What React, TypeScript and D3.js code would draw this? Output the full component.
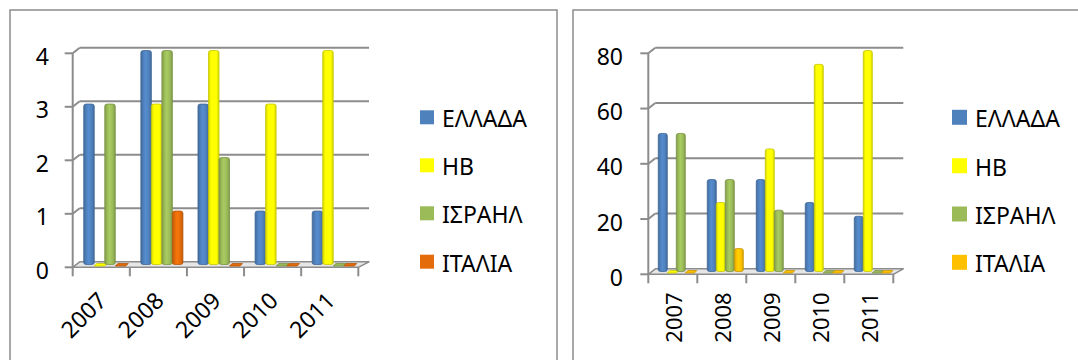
import React from 'react';
import * as d3 from 'd3';

// Yearly counts per country and the same counts as a share (%) of each year's total
const years = ['2007', '2008', '2009', '2010', '2011'];
const seriesNames = ['ΕΛΛΑΔΑ', 'ΗΒ', 'ΙΣΡΑΗΛ', 'ΙΤΑΛΙΑ'];

const greeceCount = [3, 4, 3, 1, 1];
const ukCount = [0, 3, 4, 3, 4];
const israelCount = [3, 4, 2, 0, 0];
const italyCount = [0, 1, 0, 0, 0];

const greeceShare = [50, 33.3, 33.3, 25, 20];
const ukShare = [0, 25, 44.4, 75, 80];
const israelShare = [50, 33.3, 22.2, 0, 0];
const italyShare = [0, 8.3, 0, 0, 0];

const countTicks = [0, 1, 2, 3, 4];
const shareTicks = [0, 20, 40, 60, 80];

const countColors = ['#4f81bd', '#ffff00', '#9bbb59', '#e46c0a'];
const shareColors = ['#4f81bd', '#ffff00', '#9bbb59', '#ffc000'];

const FONT = '"Noto Sans", "DejaVu Sans", sans-serif';
const GRID = '#8c8c8c';
const DX = 7;
const DY = 5.5;

type PanelProps = {
  id: string;
  series: number[][];
  colors: string[];
  ticks: number[];
  frame: { x: number; y: number; w: number; h: number };
  x0: number;
  xEnd: number;
  backEnd: number;
  y0: number;
  yTop: number;
  tickLabelRight: number;
  tickFont: number;
  labelRotate: number;
  labelFont: number;
  legendX: number;
  legendYs: number[];
  legendText: number;
  keySize: number;
};

function Panel(p: PanelProps) {
  const max = p.ticks[p.ticks.length - 1];
  const y = d3.scaleLinear().domain([0, max]).range([p.y0, p.yTop]);
  const x = d3.scaleBand<string>().domain(years).range([p.x0, p.xEnd]).paddingInner(0).paddingOuter(0);
  const cw = x.bandwidth();
  const groupPad = cw * 0.132;
  const inner = d3.scaleBand<string>().domain(seriesNames).range([groupPad, cw - groupPad]).padding(0);
  const bw = inner.bandwidth();
  const sx = DX / 2;
  const sy = DY / 2;
  const boundaries = years.map((yr) => x(yr) as number).concat([p.xEnd]);

  return (
    <g>
      <defs>
        {p.colors.map((c, i) => {
          const dark = d3.color(c)!.darker(0.5).formatHex();
          const light = d3.color(c)!.brighter(0.25).formatHex();
          return (
            <linearGradient key={i} id={`${p.id}-g${i}`} x1="0" x2="1" y1="0" y2="0">
              <stop offset="0%" stopColor={dark} />
              <stop offset="25%" stopColor={c} />
              <stop offset="45%" stopColor={light} />
              <stop offset="75%" stopColor={c} />
              <stop offset="100%" stopColor={dark} />
            </linearGradient>
          );
        })}
      </defs>
      <rect x={p.frame.x} y={p.frame.y} width={p.frame.w} height={p.frame.h} fill="#fff" stroke={GRID} strokeWidth={1.5} />

      {/* back wall gridlines */}
      {p.ticks.filter((t) => t > 0).map((t) => (
        <g key={t}>
          <line x1={p.x0} y1={y(t)} x2={p.x0 + DX} y2={y(t) - DY} stroke={GRID} strokeWidth={2} />
          <line x1={p.x0 + DX} y1={y(t) - DY} x2={p.backEnd} y2={y(t) - DY} stroke={GRID} strokeWidth={2} />
        </g>
      ))}

      {/* floor */}
      <polygon
        points={`${p.x0},${p.y0} ${p.xEnd},${p.y0} ${p.backEnd},${p.y0 - DY} ${p.x0 + DX},${p.y0 - DY}`}
        fill="#e6e6e6"
        stroke={GRID}
        strokeWidth={1.5}
        strokeLinejoin="round"
      />

      {/* value axis */}
      <line x1={p.x0} y1={p.yTop} x2={p.x0} y2={p.y0} stroke={GRID} strokeWidth={2} />
      {p.ticks.map((t) => (
        <g key={t}>
          <line x1={p.x0 - 8} y1={y(t)} x2={p.x0} y2={y(t)} stroke={GRID} strokeWidth={2} />
          <text
            x={p.tickLabelRight}
            y={y(t) + 2.5}
            textAnchor="end"
            dominantBaseline="central"
            fontFamily={FONT}
            fontSize={p.tickFont}
            fill="#000"
          >
            {t}
          </text>
        </g>
      ))}

      {/* category ticks */}
      {boundaries.map((bx, i) => (
        <line key={i} x1={bx} y1={p.y0} x2={bx} y2={p.y0 + 9} stroke={GRID} strokeWidth={2} />
      ))}

      {/* columns */}
      {years.map((yr, ci) => (
        <g key={yr}>
          {seriesNames.map((name, si) => {
            const v = p.series[si][ci];
            const bx = (x(yr) as number) + (inner(name) as number) + sx;
            const base = p.y0 - sy;
            const edge = d3.color(p.colors[si])!.darker(0.7).formatHex();
            if (v === 0) {
              return (
                <polygon
                  key={name}
                  points={`${bx},${base + 1.5} ${bx + bw},${base + 1.5} ${bx + bw + 2.5},${base - 1} ${bx + 2.5},${base - 1}`}
                  fill={p.colors[si]}
                  stroke={edge}
                  strokeWidth={0.8}
                />
              );
            }
            const top = y(v) - sy;
            return (
              <rect
                key={name}
                x={bx}
                y={top}
                width={bw}
                height={base - top}
                rx={2.5}
                ry={2}
                fill={`url(#${p.id}-g${si})`}
                stroke={edge}
                strokeWidth={0.8}
              />
            );
          })}
        </g>
      ))}

      {/* category labels */}
      {years.map((yr) => {
        const cx = (x(yr) as number) + cw / 2;
        if (p.labelRotate === -45) {
          return (
            <text
              key={yr}
              transform={`translate(${cx + 0.5},${p.y0 + 28.5}) rotate(-45)`}
              textAnchor="end"
              dominantBaseline="central"
              fontFamily={FONT}
              fontSize={p.labelFont}
              fill="#000"
            >
              {yr}
            </text>
          );
        }
        return (
          <text
            key={yr}
            transform={`translate(${cx},${p.y0 + 18}) rotate(-90)`}
            textAnchor="end"
            dominantBaseline="central"
            fontFamily={FONT}
            fontSize={p.labelFont}
            fill="#000"
          >
            {yr}
          </text>
        );
      })}

      {/* legend */}
      {seriesNames.map((name, i) => (
        <g key={name}>
          <rect
            x={p.legendX}
            y={p.legendYs[i] - p.keySize / 2}
            width={p.keySize}
            height={p.keySize}
            fill={p.colors[i]}
          />
          <text
            x={p.legendX + p.keySize + 8}
            y={p.legendYs[i] + 1}
            dominantBaseline="central"
            fontFamily={FONT}
            fontSize={p.legendText}
            fill="#000"
          >
            {name}
          </text>
        </g>
      ))}
    </g>
  );
}

export default function App() {
  return (
    <svg
      width={1078}
      height={360}
      viewBox="0 0 1078 360"
      style={{ position: 'absolute', left: 0, top: 0, background: '#fff' }}
    >
      <rect x={0} y={0} width={1078} height={360} fill="#fff" />
      <Panel
        id="cnt"
        series={[greeceCount, ukCount, israelCount, italyCount]}
        colors={countColors}
        ticks={countTicks}
        frame={{ x: 10, y: 10, w: 547, h: 370 }}
        x0={72.7}
        xEnd={358.3}
        backEnd={369}
        y0={267.3}
        yTop={53.3}
        tickLabelRight={49}
        tickFont={23}
        labelRotate={-45}
        labelFont={23}
        legendX={420}
        legendYs={[117.3, 165.3, 213.3, 261.7]}
        legendText={23}
        keySize={14}
      />
      <Panel
        id="shr"
        series={[greeceShare, ukShare, israelShare, italyShare]}
        colors={shareColors}
        ticks={shareTicks}
        frame={{ x: 573, y: 10, w: 520, h: 370 }}
        x0={648.3}
        xEnd={893.3}
        backEnd={903.3}
        y0={274.3}
        yTop={53.3}
        tickLabelRight={623}
        tickFont={23}
        labelRotate={-90}
        labelFont={22}
        legendX={952}
        legendYs={[117.3, 165.7, 214, 262.3]}
        legendText={23}
        keySize={15}
      />
    </svg>
  );
}
